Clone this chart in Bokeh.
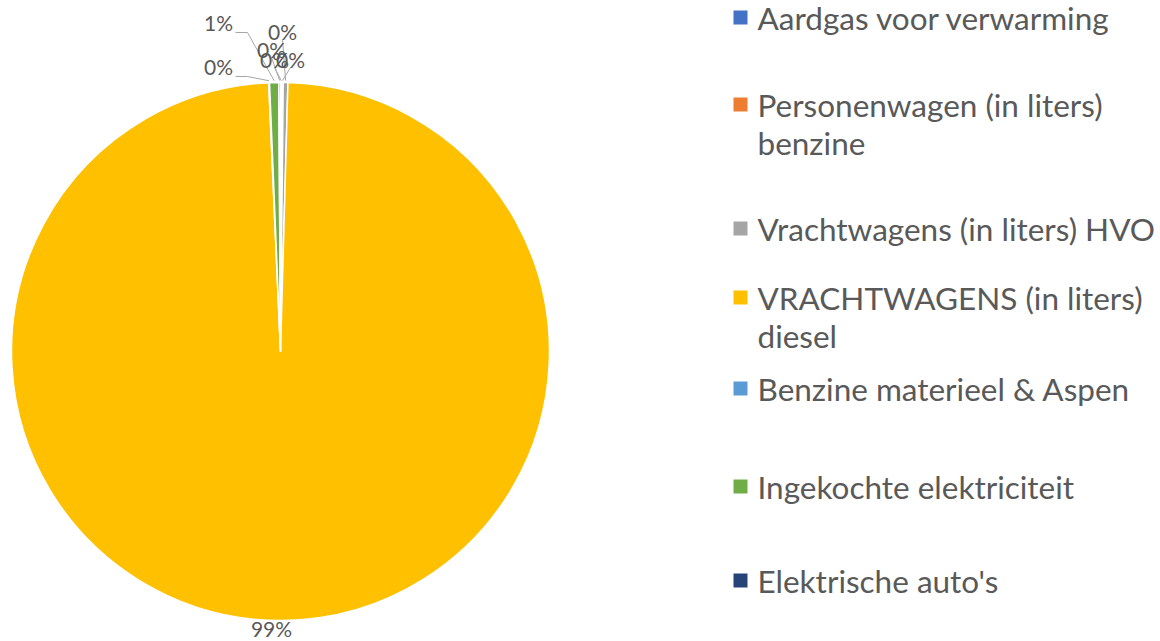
import math
from bokeh.plotting import figure
from bokeh.models import Range1d
from bokeh.core.properties import value
from bokeh.embed import file_html
from bokeh.resources import INLINE

# ---- data ----
categories = [
    "Aardgas voor verwarming",
    "Personenwagen (in liters) benzine",
    "Vrachtwagens (in liters) HVO",
    "VRACHTWAGENS (in liters) diesel",
    "Benzine materieel & Aspen",
    "Ingekochte elektriciteit",
    "Elektrische auto's",
]
values = [0.08, 0.08, 0.28, 98.86, 0.05, 0.55, 0.10]
colors = ["#4472C4", "#ED7D31", "#A5A5A5", "#FFC000", "#5B9BD5", "#70AD47", "#264478"]
legend_lines = [
    ["Aardgas voor verwarming"],
    ["Personenwagen (in liters)", "benzine"],
    ["Vrachtwagens (in liters) HVO"],
    ["VRACHTWAGENS (in liters)", "diesel"],
    ["Benzine materieel & Aspen"],
    ["Ingekochte elektriciteit"],
    ["Elektrische auto's"],
]

# ---- layout / style ----
W, H = 1160, 641
CX, CY, R = 280, 351, 269
FONT = "Lato"
TXT = "#595959"
LEADER = "#A6A6A6"
# label centre positions (picture px) for each slice
label_pos = [(274, 59), (290, 59), (282, 31), (271, 628), (218, 66), (218, 22), (271, 49)]
# legend first-line centre y (picture px)
legend_y = [17, 104, 228, 297, 388, 486, 580]
LINE_H = 38
MARK_X, TEXT_X = 740, 757

p = figure(width=W, height=H, output_backend="svg", toolbar_location=None,
           x_range=Range1d(0, W), y_range=Range1d(-H, 0),
           min_border=0)
p.axis.visible = False
p.grid.visible = False
p.outline_line_color = None
p.background_fill_color = "white"

total = sum(values)
starts, ends, mids = [], [], []
c = 0.0
for v in values:
    f0, f1 = c / total, (c + v) / total
    starts.append(math.pi / 2 - 2 * math.pi * f1)
    ends.append(math.pi / 2 - 2 * math.pi * f0)
    mids.append(math.pi / 2 - 2 * math.pi * (f0 + f1) / 2)
    c += v

p.wedge(x=CX, y=-CY, radius=R, start_angle=starts, end_angle=ends,
        fill_color=colors, line_color="white", line_width=1.5)

labels = [f"{round(v / total * 100)}%" for v in values]

# leader lines
for i, (lx, ly) in enumerate(label_pos):
    ax = CX + (R + 2) * math.cos(mids[i])
    ay = CY - (R + 2) * math.sin(mids[i])
    if i == 3:
        continue
    if lx < 250:
        xs = [lx + 17, lx + 29, ax]
        ys = [ly + 10, ly + 10, ay]
    else:
        xs = [lx, ax]
        ys = [ly + 8, ay]
    p.line(x=xs, y=[-y for y in ys], line_color=LEADER, line_width=1)

p.text(x=[q[0] for q in label_pos], y=[-q[1] for q in label_pos], text=labels,
       text_font=value(FONT), text_font_size="21px", text_color=TXT,
       text_align="center", text_baseline="middle")

# legend
p.rect(x=[MARK_X] * len(colors), y=[-y for y in legend_y], width=14, height=14,
       fill_color=colors, line_color=None)
lx, ly, lt = [], [], []
for y, lines in zip(legend_y, legend_lines):
    for k, t in enumerate(lines):
        lx.append(TEXT_X)
        ly.append(-(y + k * LINE_H))
        lt.append(t)
p.text(x=lx, y=ly, text=lt, text_font=value(FONT), text_font_size="31.5px",
       text_color=TXT, text_align="left", text_baseline="middle")

open("out.html", "w").write(file_html(p, INLINE))
